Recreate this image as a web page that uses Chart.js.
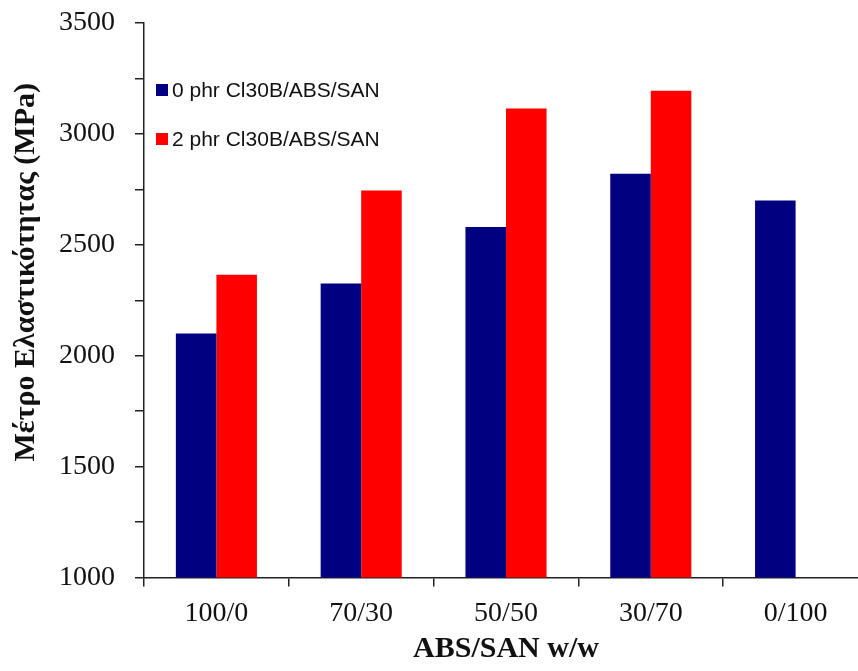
<!DOCTYPE html>
<html>
<head>
<meta charset="utf-8">
<script src="https://cdn.jsdelivr.net/npm/chart.js@4.4.1/dist/chart.umd.min.js"></script>
<style>
  html, body { margin: 0; padding: 0; background: #fff; }
  #wrap { width: 858px; height: 671px; overflow: hidden; position: relative; }
  #wrap canvas { position: absolute; left: 0; top: -4px; }
</style>
</head>
<body>
<div id="wrap"><canvas id="chartMetro" width="880" height="675"></canvas></div>
<script>
// ABS/SAN blend ratios and modulus values (MPa)
const ratios = ['100/0', '70/30', '50/50', '30/70', '0/100'];
const modulus0phr = [2100, 2325, 2580, 2820, 2700];
const modulus2phr = [2365, 2745, 3115, 3195, null];
const seriesNames = ['0 phr Cl30B/ABS/SAN', '2 phr Cl30B/ABS/SAN'];
const seriesColors = ['#000080', '#FF0000'];

const serif = 'Liberation Serif';
const sans = 'Liberation Sans';

// legend drawn inside the plot, top-left
const legendInside = {
    id: 'legendInside',
    afterDraw(chart) {
        const ctx = chart.ctx;
        const { left, top } = chart.chartArea;
        ctx.save();
        ctx.font = '21px ' + sans;
        ctx.textBaseline = 'middle';
        chart.data.datasets.forEach((ds, i) => {
            const y = top + 67 + i * 49;
            ctx.fillStyle = ds.backgroundColor;
            ctx.fillRect(left + 12, y - 6, 12, 12);
            ctx.fillStyle = '#111';
            ctx.fillText(ds.label, left + 28, y + 1);
        });
        ctx.restore();
    }
};

// rotated y-axis title
const yTitle = {
    id: 'yTitle',
    afterDraw(chart) {
        const ctx = chart.ctx;
        const { top, bottom } = chart.chartArea;
        ctx.save();
        ctx.translate(26, (top + bottom) / 2 - 28);
        ctx.rotate(-Math.PI / 2);
        ctx.font = 'bold 30px ' + serif;
        ctx.fillStyle = '#111';
        ctx.textAlign = 'center';
        ctx.textBaseline = 'middle';
        ctx.fillText('Μέτρο Ελαστικότητας (MPa)', 0, 0);
        ctx.restore();
    }
};

new Chart(document.getElementById('chartMetro'), {
    type: 'bar',
    data: {
        labels: ratios,
        datasets: [
            { label: seriesNames[0], data: modulus0phr, backgroundColor: seriesColors[0] },
            { label: seriesNames[1], data: modulus2phr, backgroundColor: seriesColors[1] }
        ]
    },
    options: {
        responsive: false,
        animation: false,
        layout: { padding: { left: 44, right: 12, top: 19, bottom: 0 } },
        datasets: { bar: { categoryPercentage: 0.56, barPercentage: 1.0, borderWidth: 0 } },
        plugins: { legend: { display: false }, tooltip: { enabled: false } },
        scales: {
            x: {
                grid: { drawOnChartArea: false, drawTicks: true, tickLength: 9, color: '#222', lineWidth: 1.5 },
                border: { display: true, color: '#222', width: 1.5 },
                ticks: { color: '#111', font: { family: serif, size: 28 }, padding: 10, maxRotation: 0 },
                title: { display: true, text: 'ABS/SAN w/w', color: '#111', font: { family: serif, size: 30, weight: 'bold' }, padding: 4 },
                afterFit(scale) { scale.height = 93.5; }
            },
            y: {
                min: 1000, max: 3500,
                grid: { drawOnChartArea: false, drawTicks: true, tickLength: 9, color: '#222', lineWidth: 1.5 },
                border: { display: true, color: '#222', width: 1.5 },
                ticks: {
                    stepSize: 250, autoSkip: false, color: '#111', padding: 20,
                    font: { family: serif, size: 28, lineHeight: 0.5 },
                    callback: (v) => v % 500 === 0 ? v : ''
                },
                afterFit(scale) { scale.width = 100; }
            }
        }
    },
    plugins: [legendInside, yTitle]
});
</script>
</body>
</html>
